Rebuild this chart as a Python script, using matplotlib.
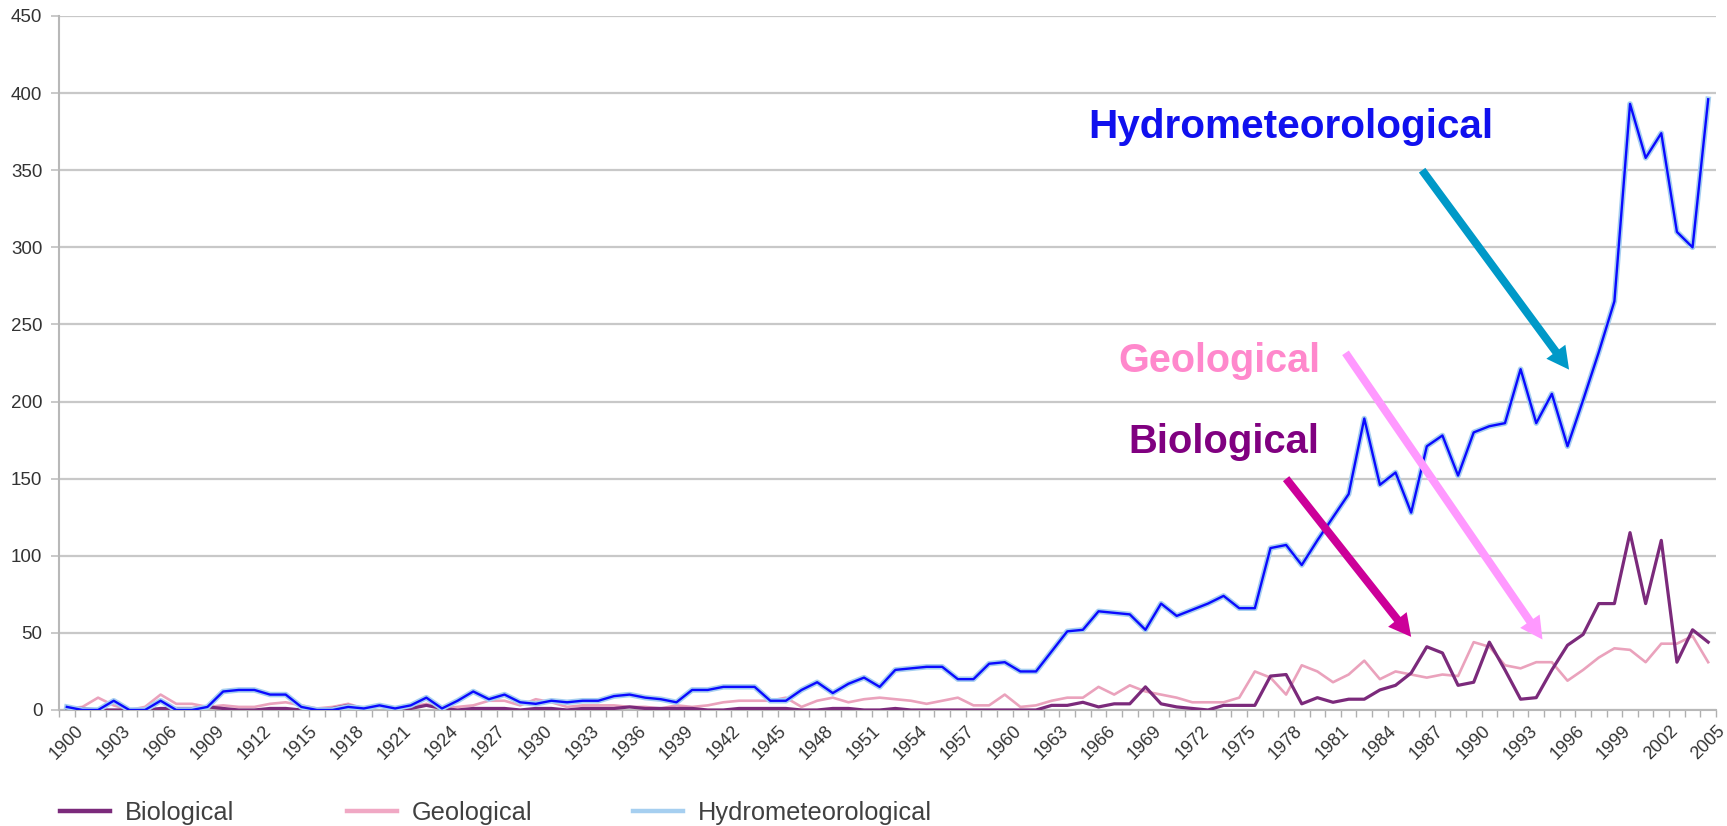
import matplotlib
matplotlib.use("Agg")
import matplotlib.pyplot as plt
import matplotlib.patheffects as pe
from matplotlib.lines import Line2D
from matplotlib.patches import FancyArrowPatch, ArrowStyle
from matplotlib.transforms import ScaledTranslation
import numpy as np

plt.rcParams['font.family'] = ['Liberation Sans', 'DejaVu Sans']

years = list(range(1900, 2006))

biological = [
    1, 1, 0, 0, 0, 0, 1, 1, 1, 2,          # 1900-1909
    1, 0, 0, 1, 1, 0, 0, 1, 3, 1,          # 1910-1919
    3, 1, 1, 3, 1, 0, 1, 1, 1, 0,          # 1920-1929
    1, 1, 0, 1, 1, 1, 2, 1, 1, 1,          # 1930-1939
    1, 0, 0, 1, 1, 1, 1, 0, 0, 1,          # 1940-1949
    1, 0, 0, 1, 0, 0, 0, 0, 0, 0,          # 1950-1959
    0, 0, 0, 3, 3, 5, 2, 4, 4, 15,         # 1960-1969
    4, 2, 1, 0, 3, 3, 3, 22, 23, 4,        # 1970-1979
    8, 5, 7, 7, 13, 16, 24, 41, 37, 16,    # 1980-1989
    18, 44, 26, 7, 8, 26, 42, 49, 69, 69,  # 1990-1999
    115, 69, 110, 31, 52, 44,              # 2000-2005
]

geological = [
    1, 2, 8, 3, 0, 2, 10, 4, 4, 2,         # 1900-1909
    3, 2, 2, 4, 5, 3, 1, 2, 4, 1,          # 1910-1919
    3, 1, 2, 4, 1, 2, 3, 6, 6, 3,          # 1920-1929
    7, 5, 2, 3, 3, 3, 2, 2, 1, 3,          # 1930-1939
    2, 3, 5, 6, 6, 6, 8, 2, 6, 8,          # 1940-1949
    5, 7, 8, 7, 6, 4, 6, 8, 3, 3,          # 1950-1959
    10, 2, 3, 6, 8, 8, 15, 10, 16, 12,     # 1960-1969
    10, 8, 5, 5, 5, 8, 25, 21, 10, 29,     # 1970-1979
    25, 18, 23, 32, 20, 25, 23, 21, 23, 22,  # 1980-1989
    44, 41, 29, 27, 31, 31, 19, 26, 34, 40,  # 1990-1999
    39, 31, 43, 43, 48, 31,                # 2000-2005
]

hydrometeorological = [
    2, 0, 0, 6, 0, 0, 6, 0, 0, 2,          # 1900-1909
    12, 13, 13, 10, 10, 2, 0, 0, 2, 1,     # 1910-1919
    3, 1, 3, 8, 1, 6, 12, 7, 10, 5,        # 1920-1929
    4, 6, 5, 6, 6, 9, 10, 8, 7, 5,         # 1930-1939
    13, 13, 15, 15, 15, 6, 6, 13, 18, 11,  # 1940-1949
    17, 21, 15, 26, 27, 28, 28, 20, 20, 30,  # 1950-1959
    31, 25, 25, 38, 51, 52, 64, 63, 62, 52,  # 1960-1969
    69, 61, 65, 69, 74, 66, 66, 105, 107, 94,  # 1970-1979
    110, 125, 140, 189, 146, 154, 128, 171, 178, 152,  # 1980-1989
    180, 184, 186, 221, 186, 205, 171, 201, 232, 265,  # 1990-1999
    393, 358, 374, 310, 300, 396,          # 2000-2005
]

y_ticks = list(range(0, 451, 50))
x_tick_years = list(range(1900, 2006, 3))
legend_labels = ['Biological', 'Geological', 'Hydrometeorological']

W, H = 1727, 826
fig = plt.figure(figsize=(W / 100, H / 100), dpi=100)
ax = fig.add_axes([59 / W, 1 - 710 / H, (1716 - 59) / W, (710 - 16) / H])

c_bio = '#7b2a7b'
c_geo = '#eaa2bc'
c_hydro = '#0a0aff'
c_hydro_light = '#a6cff0'

ax.plot(years, geological, color=c_geo, lw=1.9, zorder=3)
ax.plot(years, biological, color=c_bio, lw=2.3, zorder=4)
ax.plot(years, hydrometeorological, color=c_hydro, lw=1.7, zorder=5,
        path_effects=[pe.Stroke(linewidth=4.0, foreground=c_hydro_light), pe.Normal()])

ax.set_xlim(1899.5, 2005.5)
ax.set_ylim(0, 450)

ax.set_yticks(y_ticks)
ax.yaxis.grid(True, color='#c8c8c8', lw=1.6)
ax.set_axisbelow(True)

ax.set_xticks(x_tick_years)
ax.set_xticklabels([str(y) for y in x_tick_years], rotation=45, ha='right', va='top',
                   rotation_mode='anchor', fontsize=13, color='#333333')
ax.set_xticks(np.arange(1899.5, 2006, 1.0), minor=True)
ax.tick_params(axis='x', which='major', length=0, pad=9)
ax.tick_params(axis='x', which='minor', length=5, width=1, color='#b0b0b0', direction='out')
ax.tick_params(axis='y', length=6, width=1.2, color='#c0c0c0', pad=6,
               labelsize=13.5, labelcolor='#333333')
offset = ScaledTranslation(8 / 100, 0, fig.dpi_scale_trans)
for lab in ax.get_xticklabels():
    lab.set_transform(lab.get_transform() + offset)

for s in ['top', 'right']:
    ax.spines[s].set_visible(False)
ax.spines['left'].set_color('#b8b8b8')
ax.spines['left'].set_linewidth(1.5)
ax.spines['bottom'].set_color('#b8b8b8')
ax.spines['bottom'].set_linewidth(1.5)

# Annotations
ax.text(1965.35, 378, 'Hydrometeorological', color='#1010ee', fontsize=29.2,
        fontweight='bold', ha='left', va='center', zorder=6)
ax.text(1980.2, 226, 'Geological', color='#ff88cc', fontsize=28.5,
        fontweight='bold', ha='right', va='center', zorder=6)
ax.text(1980.1, 173.5, 'Biological', color='#800080', fontsize=28.8,
        fontweight='bold', ha='right', va='center', zorder=6)

style = ArrowStyle.Simple(head_length=16, head_width=17, tail_width=5.8)
for (x0, y0), (x1, y1), col in [
    ((1986.7, 350), (1996.1, 220.7), '#0099c8'),
    ((1981.8, 231.6), (1994.4, 45.7), '#ff99ff'),
    ((1978.0, 150.0), (1986.0, 47.4), '#cc0099'),
]:
    arr = FancyArrowPatch((x0, y0), (x1, y1), arrowstyle=style, mutation_scale=1,
                          color=col, lw=0, shrinkA=0, shrinkB=0, zorder=7)
    ax.add_patch(arr)

legend_colors = [c_bio, '#f0a8c4', c_hydro_light]
legend_x = [60, 347, 633]
for lab, col, lx in zip(legend_labels, legend_colors, legend_x):
    fig.legend([Line2D([], [], color=col, lw=3.2)], [lab], loc='center left',
               bbox_to_anchor=(lx / W, 1 - 813 / H), frameon=False, fontsize=18.3,
               borderpad=0, borderaxespad=0, handlelength=1.95, handletextpad=0.6,
               labelcolor='#404040')

fig.savefig('out.png', dpi=100)
